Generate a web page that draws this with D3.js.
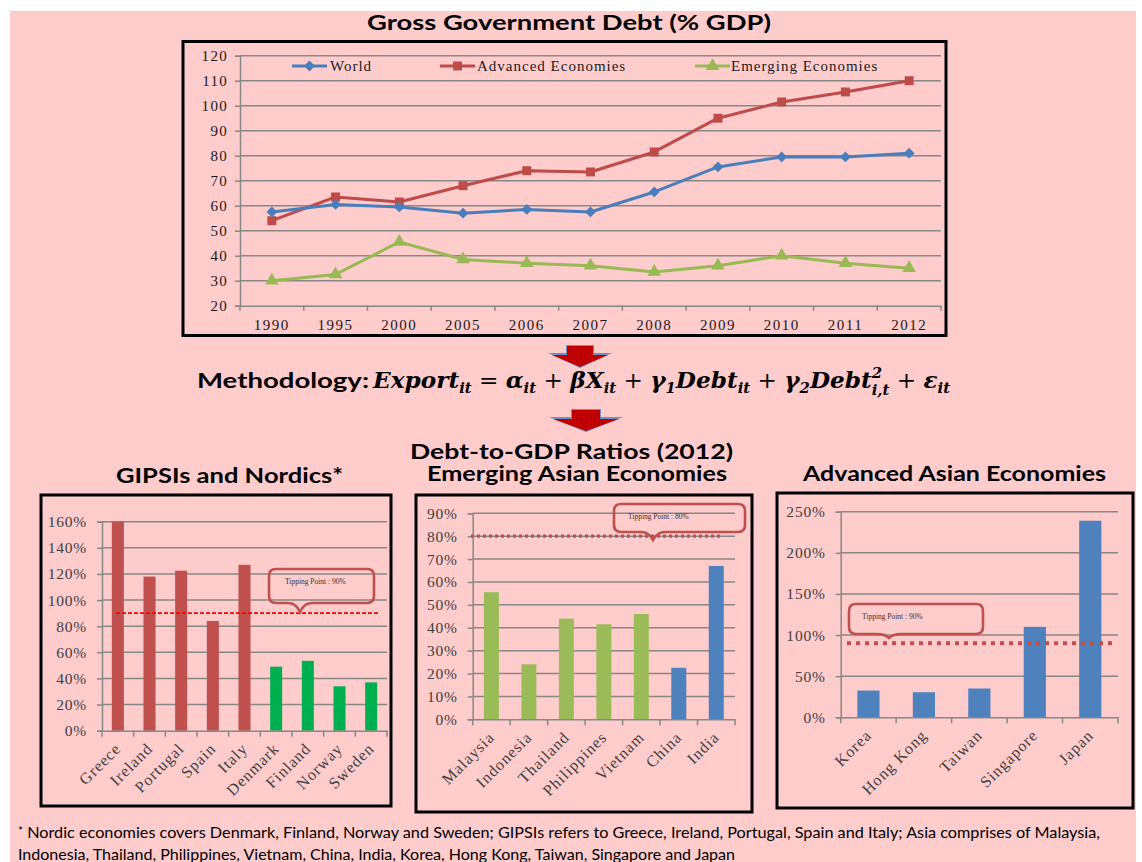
<!DOCTYPE html>
<html>
<head>
<meta charset="utf-8">
<script src="https://cdn.jsdelivr.net/npm/d3@7"></script>
<style>
  body { margin: 0; background: #ffffff; }
  svg { display: block; }
</style>
</head>
<body>
<svg id="chart" width="1142" height="862"></svg>
<script>
// ---- Gross government debt, % of GDP ----
const years = ["1990", "1995", "2000", "2005", "2006", "2007", "2008", "2009", "2010", "2011", "2012"];
const worldDebt    = [57.5, 60.5, 59.5, 57, 58.5, 57.5, 65.5, 75.5, 79.5, 79.5, 81];
const advancedDebt = [54, 63.5, 61.5, 68, 74, 73.5, 81.5, 95, 101.5, 105.5, 110];
const emergingDebt = [30, 32.5, 45.5, 38.5, 37, 36, 33.5, 36, 40, 37, 35];
const debtTicks = [20, 30, 40, 50, 60, 70, 80, 90, 100, 110, 120];
const seriesNames = ["World", "Advanced Economies", "Emerging Economies"];

// ---- Debt-to-GDP ratios, 2012 ----
const gipsiNordicNames  = ["Greece", "Ireland", "Portugal", "Spain", "Italy", "Denmark", "Finland", "Norway", "Sweden"];
const gipsiNordicRatios = [160, 118, 122.5, 84, 127, 49, 53.5, 34, 37];
const gipsiNordicGroups = ["GIPSI", "GIPSI", "GIPSI", "GIPSI", "GIPSI", "Nordic", "Nordic", "Nordic", "Nordic"];
const gipsiNordicTicks  = [0, 20, 40, 60, 80, 100, 120, 140, 160];
const gipsiNordicTipping = 90;

const emergingAsiaNames  = ["Malaysia", "Indonesia", "Thailand", "Philippines", "Vietnam", "China", "India"];
const emergingAsiaRatios = [55.5, 24, 44, 41.5, 46, 22.5, 67];
const emergingAsiaGroups = ["ASEAN", "ASEAN", "ASEAN", "ASEAN", "ASEAN", "Giant", "Giant"];
const emergingAsiaTicks  = [0, 10, 20, 30, 40, 50, 60, 70, 80, 90];
const emergingAsiaTipping = 80;

const advancedAsiaNames  = ["Korea", "Hong Kong", "Taiwan", "Singapore", "Japan"];
const advancedAsiaRatios = [32.5, 30.5, 35, 110, 239];
const advancedAsiaGroups = ["Adv", "Adv", "Adv", "Adv", "Adv"];
const advancedAsiaTicks  = [0, 50, 100, 150, 200, 250];
const advancedAsiaTipping = 90;

const SANS = "Lato, 'Open Sans', sans-serif";
const SERIF = "'Liberation Serif', 'DejaVu Serif', serif";
const MATH = "'DejaVu Serif', 'Liberation Serif', serif";
const GRID = "#878787";

const svg = d3.select("#chart");

// page background
svg.append("rect").attr("x", 10).attr("y", 11).attr("width", 1126).attr("height", 851)
  .attr("fill", "#ffcccc");

function title(txt, x0, x1, baseline, size) {
  svg.append("text")
    .attr("x", x0).attr("y", baseline)
    .attr("font-family", SANS).attr("font-weight", 700).attr("font-size", size)
    .attr("fill", "#000")
    .attr("textLength", x1 - x0).attr("lengthAdjust", "spacingAndGlyphs")
    .text(txt);
}

// ================= Line chart =================
title("Gross Government Debt (% GDP)", 367, 771, 30, 21);

const lineG = svg.append("g");
const xT = d3.scaleBand().domain(years).range([240, 941]);
const yT = d3.scaleLinear().domain([20, 120]).range([305.7, 55.7]);
const cx = y => xT(y) + xT.bandwidth() / 2;

lineG.append("g").selectAll("line").data(debtTicks.slice(1)).join("line")
  .attr("x1", 240).attr("x2", 941)
  .attr("y1", d => yT(d)).attr("y2", d => yT(d))
  .attr("stroke", GRID).attr("stroke-width", 1.5);

const yAxisT = lineG.append("g").attr("transform", "translate(240,0)")
  .call(d3.axisLeft(yT).tickValues(debtTicks).tickSize(5).tickPadding(7));
yAxisT.select(".domain").attr("stroke", GRID).attr("stroke-width", 1.5);
yAxisT.selectAll(".tick line").attr("stroke", GRID).attr("stroke-width", 1.5);
yAxisT.selectAll(".tick text").attr("font-family", SERIF).attr("font-size", 15)
  .attr("letter-spacing", 1.3).attr("fill", "#1a1a1a");

const xAxisT = lineG.append("g").attr("transform", `translate(0,${yT(20)})`)
  .call(d3.axisBottom(xT).tickSize(0).tickPadding(14));
xAxisT.select(".domain").attr("stroke", GRID).attr("stroke-width", 1.5);
xAxisT.selectAll(".tick text").attr("font-family", SERIF).attr("font-size", 15)
  .attr("letter-spacing", 1.5).attr("fill", "#1a1a1a");
lineG.append("g").selectAll("line").data(years.concat(["end"])).join("line")
  .attr("x1", d => d === "end" ? 941 : xT(d)).attr("x2", d => d === "end" ? 941 : xT(d))
  .attr("y1", yT(20)).attr("y2", yT(20) + 5)
  .attr("stroke", GRID).attr("stroke-width", 1.5);

const seriesDefs = [
  { name: seriesNames[0], vals: worldDebt,    color: "#4a7ebb", sym: d3.symbolDiamond2, size: 75 },
  { name: seriesNames[1], vals: advancedDebt, color: "#be4b48", sym: d3.symbolSquare,   size: 80 },
  { name: seriesNames[2], vals: emergingDebt, color: "#98b954", sym: d3.symbolTriangle, size: 80 }
];
const lineGen = d3.line().x((d, i) => cx(years[i])).y(d => yT(d));

// draw emerging first so the advanced and world lines sit on top
[2, 1, 0].forEach(k => {
  const s = seriesDefs[k];
  lineG.append("path").datum(s.vals).attr("d", lineGen)
    .attr("fill", "none").attr("stroke", s.color).attr("stroke-width", 3)
    .attr("stroke-linejoin", "round");
  lineG.append("g").selectAll("path").data(s.vals).join("path")
    .attr("transform", (d, i) => `translate(${cx(years[i])},${yT(d)})`)
    .attr("d", d3.symbol(s.sym, s.size)).attr("fill", s.color);
});

// legend
const legendPos = [{ x: 292, tx: 330 }, { x: 440, tx: 477 }, { x: 695, tx: 731 }];
seriesDefs.forEach((s, k) => {
  const p = legendPos[k], ly = 66;
  lineG.append("line").attr("x1", p.x).attr("x2", p.x + 35).attr("y1", ly).attr("y2", ly)
    .attr("stroke", s.color).attr("stroke-width", 3);
  lineG.append("path").attr("transform", `translate(${p.x + 17.5},${ly})`)
    .attr("d", d3.symbol(s.sym, s.size)).attr("fill", s.color);
  lineG.append("text").attr("x", p.tx).attr("y", ly + 5)
    .attr("font-family", SERIF).attr("font-size", 15).attr("letter-spacing", 1)
    .attr("fill", "#1a1a1a").text(s.name);
});

svg.append("rect").attr("x", 183).attr("y", 41.5).attr("width", 763).attr("height", 294)
  .attr("fill", "none").attr("stroke", "#000").attr("stroke-width", 3);

// ================= Arrows =================
function blockArrow(cxA, topY, headHalf, shaftHalf) {
  const g = svg.append("g");
  const shaftH = 9, headH = 12;
  g.append("polygon")
    .attr("points", [
      [cxA - shaftHalf - 1, topY - 1], [cxA + shaftHalf + 1, topY - 1],
      [cxA + shaftHalf + 1, topY + shaftH - 2], [cxA + headHalf + 4, topY + shaftH - 2],
      [cxA, topY + shaftH + headH + 1], [cxA - headHalf - 4, topY + shaftH - 2],
      [cxA - shaftHalf - 1, topY + shaftH - 2]
    ].map(p => p.join(",")).join(" "))
    .attr("fill", "#6d8fc4");
  g.append("polygon")
    .attr("points", [
      [cxA - shaftHalf, topY], [cxA + shaftHalf, topY],
      [cxA + shaftHalf, topY + shaftH], [cxA + headHalf, topY + shaftH],
      [cxA, topY + shaftH + headH], [cxA - headHalf, topY + shaftH],
      [cxA - shaftHalf, topY + shaftH]
    ].map(p => p.join(",")).join(" "))
    .attr("fill", "#c00000");
}
blockArrow(580, 346, 28, 13);
blockArrow(586, 410, 33, 14);

// ================= Methodology equation =================
svg.append("text").attr("x", 197).attr("y", 388)
  .attr("font-family", SANS).attr("font-weight", 700).attr("font-size", 20)
  .attr("textLength", 172).attr("lengthAdjust", "spacingAndGlyphs").text("Methodology:");

const eqPieces = [
  { t: "Export" }, { t: "it", k: "sub" }, { t: " = ", k: "op" }, { t: "α" }, { t: "it", k: "sub" },
  { t: " + ", k: "op" }, { t: "βX" }, { t: "it", k: "sub" }, { t: " + ", k: "op" },
  { t: "γ" }, { t: "1", k: "sub" }, { t: "Debt" }, { t: "it", k: "sub" }, { t: " + ", k: "op" },
  { t: "γ" }, { t: "2", k: "sub" }, { t: "Debt" }, { t: "2", k: "sup", stack: "i,t" },
  { t: " + ", k: "op" }, { t: "ε" }, { t: "it", k: "sub" }
];
const eq = svg.append("g");
let ex = 0;
eqPieces.forEach(p => {
  const small = p.k === "sub" || p.k === "sup";
  const node = eq.append("text")
    .attr("x", ex)
    .attr("y", p.k === "sub" ? 5 : p.k === "sup" ? -10 : 0)
    .attr("font-family", MATH)
    .attr("font-style", p.k === "op" ? "normal" : "italic")
    .attr("font-weight", p.k === "op" ? 400 : 600)
    .attr("font-size", small ? 14 : 22)
    .style("white-space", "pre")
    .text(p.t);
  let w = node.node().getComputedTextLength();
  if (p.stack) {
    const s2 = eq.append("text").attr("x", ex).attr("y", 7)
      .attr("font-family", MATH).attr("font-style", "italic").attr("font-weight", 600)
      .attr("font-size", 14).text(p.stack);
    w = Math.max(w, s2.node().getComputedTextLength());
  }
  ex += w;
});
eq.attr("transform", `translate(373,388) scale(${577 / ex},1)`);

// ================= Bar panels =================
title("Debt-to-GDP Ratios (2012)", 410, 733, 459, 21);
title("GIPSIs and Nordics*", 116, 343, 483, 20);
title("Emerging Asian Economies", 427, 727, 481, 20);
title("Advanced Asian Economies", 803, 1106, 481, 20);

function callout(x, y, w, h, tx, tip) {
  const r = 7;
  const d = `M${x + r},${y} H${x + w - r} Q${x + w},${y} ${x + w},${y + r} V${y + h - r} ` +
    `Q${x + w},${y + h} ${x + w - r},${y + h} H${tx + 12} Q${tx + 4},${y + h} ${tx},${tip} ` +
    `Q${tx - 4},${y + h} ${tx - 12},${y + h} H${x + r} Q${x},${y + h} ${x},${y + h - r} ` +
    `V${y + r} Q${x},${y} ${x + r},${y} Z`;
  svg.append("path").attr("d", d).attr("fill", "none")
    .attr("stroke", "#c0504d").attr("stroke-width", 2.6);
}

function barPanel(o) {
  const g = svg.append("g");
  const x = d3.scaleBand().domain(o.names).range([o.x0, o.x1])
    .paddingInner(o.pad).paddingOuter(o.pad / 2);
  const y = d3.scaleLinear().domain([0, o.ticks[o.ticks.length - 1]]).range([o.y0, o.y1]);

  g.append("g").selectAll("line").data(o.ticks.slice(1)).join("line")
    .attr("x1", o.x0).attr("x2", o.x1)
    .attr("y1", d => y(d)).attr("y2", d => y(d))
    .attr("stroke", GRID).attr("stroke-width", 1.5);

  const ya = g.append("g").attr("transform", `translate(${o.x0},0)`)
    .call(d3.axisLeft(y).tickValues(o.ticks).tickSize(5).tickPadding(10).tickFormat(d => d + "%"));
  ya.select(".domain").attr("stroke", GRID).attr("stroke-width", 1.5);
  ya.selectAll(".tick line").attr("stroke", GRID).attr("stroke-width", 1.5);
  ya.selectAll(".tick text").attr("font-family", SERIF).attr("font-size", 15.5)
    .attr("letter-spacing", 0.8).attr("fill", "#404040");

  g.append("g").selectAll("rect").data(o.values).join("rect")
    .attr("x", (d, i) => x(o.names[i])).attr("width", x.bandwidth())
    .attr("y", d => y(d)).attr("height", d => y(0) - y(d))
    .attr("fill", (d, i) => o.colors[o.groups[i]]);

  const xa = g.append("g").attr("transform", `translate(0,${o.y0})`)
    .call(d3.axisBottom(x).tickSize(0).tickPadding(0));
  xa.select(".domain").attr("stroke", GRID).attr("stroke-width", 1.5);
  xa.selectAll(".tick text")
    .attr("font-family", SERIF).attr("font-size", 16).attr("letter-spacing", 1)
    .attr("fill", "#404040")
    .attr("text-anchor", "end").attr("dy", 0).attr("y", 0)
    .attr("transform", "translate(4,19) rotate(-45)");
  const step = x.step();
  g.append("g").selectAll("line").data(d3.range(o.names.length + 1)).join("line")
    .attr("x1", i => o.x0 + i * step).attr("x2", i => o.x0 + i * step)
    .attr("y1", o.y0).attr("y2", o.y0 + 6)
    .attr("stroke", GRID).attr("stroke-width", 1.5);

  // tipping-point threshold
  g.append("line").attr("x1", o.tipX0).attr("x2", o.tipX1)
    .attr("y1", y(o.tipping)).attr("y2", y(o.tipping))
    .attr("stroke", o.tipColor).attr("stroke-width", o.tipWidth)
    .attr("stroke-dasharray", o.tipDash);

  const c = o.callout;
  callout(c.x, c.y, c.w, c.h, c.tx, c.tip);
  svg.append("text").attr("x", c.textX).attr("y", c.textY)
    .attr("font-family", SERIF).attr("font-size", 7.5).attr("fill", "#333")
    .text(`Tipping Point : ${o.tipping}%`);

  svg.append("rect").attr("x", o.box[0]).attr("y", o.box[1])
    .attr("width", o.box[2] - o.box[0]).attr("height", o.box[3] - o.box[1])
    .attr("fill", "none").attr("stroke", "#000").attr("stroke-width", 3);
}

barPanel({
  names: gipsiNordicNames, values: gipsiNordicRatios, groups: gipsiNordicGroups,
  colors: { GIPSI: "#c0504d", Nordic: "#00b050" },
  ticks: gipsiNordicTicks, tipping: gipsiNordicTipping,
  x0: 102, x1: 387, y0: 730.7, y1: 521.7, pad: 0.62,
  tipX0: 116, tipX1: 378, tipColor: "#ff0000", tipWidth: 1.6, tipDash: "4,2",
  callout: { x: 269, y: 569, w: 105, h: 34, tx: 300, tip: 612, textX: 285, textY: 584 },
  box: [41, 495, 391, 806]
});

barPanel({
  names: emergingAsiaNames, values: emergingAsiaRatios, groups: emergingAsiaGroups,
  colors: { ASEAN: "#9bbb59", Giant: "#4f81bd" },
  ticks: emergingAsiaTicks, tipping: emergingAsiaTipping,
  x0: 472.7, x1: 735, y0: 719.3, y1: 513.3, pad: 0.6,
  tipX0: 471, tipX1: 720, tipColor: "#c0504d", tipWidth: 3.2, tipDash: "3,3",
  callout: { x: 614, y: 504, w: 131, h: 28, tx: 653, tip: 540, textX: 628, textY: 519 },
  box: [416, 495, 752, 812]
});

barPanel({
  names: advancedAsiaNames, values: advancedAsiaRatios, groups: advancedAsiaGroups,
  colors: { Adv: "#4f81bd" },
  ticks: advancedAsiaTicks, tipping: advancedAsiaTipping,
  x0: 840.7, x1: 1118, y0: 717.3, y1: 511.7, pad: 0.6,
  tipX0: 847, tipX1: 1115, tipColor: "#c0504d", tipWidth: 4, tipDash: "4,5",
  callout: { x: 849, y: 604, w: 134, h: 30, tx: 889, tip: 638, textX: 862, textY: 619 },
  box: [777, 493, 1133, 808]
});

// ================= Footnote =================
const foot = svg.append("text").attr("x", 18).attr("y", 838)
  .attr("font-family", SANS).attr("font-size", 15).attr("fill", "#000")
  .attr("textLength", 1082).attr("lengthAdjust", "spacingAndGlyphs");
foot.append("tspan").attr("font-size", 11).attr("dy", -3).text("*");
foot.append("tspan").attr("dy", 3).text(" Nordic economies covers Denmark, Finland, Norway and Sweden; GIPSIs refers to Greece, Ireland, Portugal, Spain and Italy; Asia comprises of Malaysia,");
svg.append("text").attr("x", 18).attr("y", 860)
  .attr("font-family", SANS).attr("font-size", 15).attr("fill", "#000")
  .attr("textLength", 717).attr("lengthAdjust", "spacingAndGlyphs")
  .text("Indonesia, Thailand, Philippines, Vietnam, China, India, Korea, Hong Kong, Taiwan, Singapore and Japan");
</script>
</body>
</html>
